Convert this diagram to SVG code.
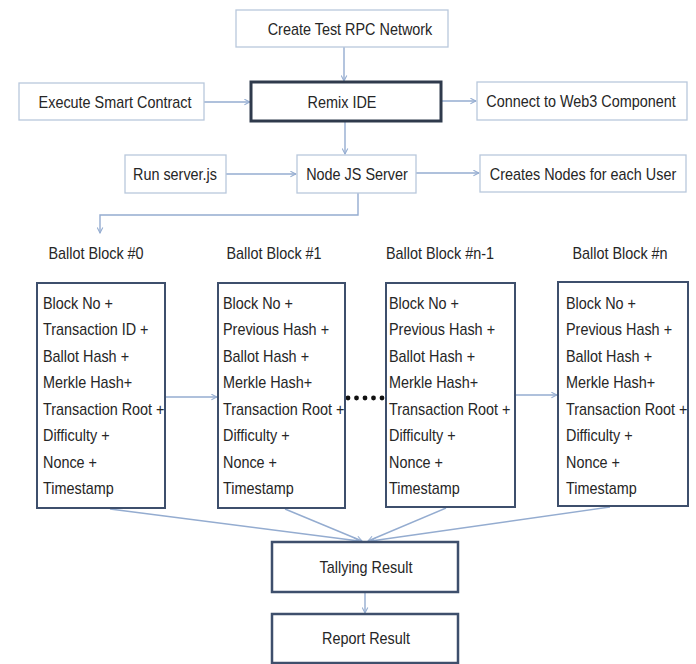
<svg xmlns="http://www.w3.org/2000/svg" width="696" height="664" viewBox="0 0 696 664">
  <style>
    .t { font-family: "Liberation Sans", Arial, sans-serif; font-size: 16px; fill: #262626; }
    .light { fill: #ffffff; stroke: #b9c8dc; stroke-width: 1.3; }
    .heavy { fill: #ffffff; stroke: #2f3a4c; stroke-width: 3; }
    .block { fill: #ffffff; stroke: #3e4f6c; stroke-width: 2; }
    .res { fill: #ffffff; stroke: #3e4f6c; stroke-width: 2.5; }
    .conn { fill: none; stroke: #94acd0; stroke-width: 1.4; }
  </style>
  <defs>
    <marker id="arr" viewBox="0 0 10 10" refX="9" refY="5" markerWidth="7" markerHeight="7" orient="auto" markerUnits="userSpaceOnUse">
      <path d="M1,1 L9,5 L1,9" fill="none" stroke="#94acd0" stroke-width="1.5"/>
    </marker>
  </defs>
  <rect width="696" height="664" fill="#ffffff"/>

  <!-- connectors -->
  <g id="connectors" class="conn">
    <path d="M344,47 V81" marker-end="url(#arr)"/>
    <path d="M204,102 H250" marker-end="url(#arr)"/>
    <path d="M441,101 H476" marker-end="url(#arr)"/>
    <path d="M345,121 V154" marker-end="url(#arr)"/>
    <path d="M226,174 H296" marker-end="url(#arr)"/>
    <path d="M416,173 H479" marker-end="url(#arr)"/>
    <path d="M358,193 V215 H100 V233" marker-end="url(#arr)"/>
    <path d="M165,397 H217" marker-end="url(#arr)"/>
    <path d="M515,395 H557" marker-end="url(#arr)"/>
    <path d="M110,509 L359,541" marker-end="url(#arr)"/>
    <path d="M285,509 L362,541" marker-end="url(#arr)"/>
    <path d="M446,508 L368,541" marker-end="url(#arr)"/>
    <path d="M610,507 L371,541" marker-end="url(#arr)"/>
    <path d="M365,593 V613" marker-end="url(#arr)"/>
  </g>
  <g id="ellipsis" fill="#111111">
    <circle cx="348" cy="398" r="2.4"/>
    <circle cx="356.5" cy="398" r="2.4"/>
    <circle cx="365" cy="398" r="2.4"/>
    <circle cx="373.5" cy="398" r="2.4"/>
    <circle cx="382" cy="398" r="2.4"/>
  </g>

  <!-- top section -->
  <g id="create-rpc">
    <rect class="light" x="236" y="10" width="212" height="37"/>
    <text class="t" text-anchor="middle" transform="translate(350,35) scale(0.9,1)">Create Test RPC Network</text>
  </g>
  <g id="execute-contract">
    <rect class="light" x="19" y="83" width="185" height="37"/>
    <text class="t" text-anchor="middle" transform="translate(115,108) scale(0.9,1)">Execute Smart Contract</text>
  </g>
  <g id="remix-ide">
    <rect class="heavy" x="251" y="82" width="190" height="39"/>
    <text class="t" text-anchor="middle" transform="translate(342,108) scale(0.9,1)">Remix IDE</text>
  </g>
  <g id="connect-web3">
    <rect class="light" x="477" y="82" width="210" height="38"/>
    <text class="t" text-anchor="middle" transform="translate(581,107) scale(0.9,1)">Connect to Web3 Component</text>
  </g>
  <g id="run-server">
    <rect class="light" x="125" y="155" width="101" height="38"/>
    <text class="t" text-anchor="middle" transform="translate(175,180) scale(0.9,1)">Run server.js</text>
  </g>
  <g id="node-server">
    <rect class="light" x="297" y="155" width="119" height="38"/>
    <text class="t" text-anchor="middle" transform="translate(357,180) scale(0.9,1)">Node JS Server</text>
  </g>
  <g id="create-nodes">
    <rect class="light" x="480" y="155" width="206" height="37"/>
    <text class="t" text-anchor="middle" transform="translate(583,180) scale(0.9,1)">Creates Nodes for each User</text>
  </g>

  <!-- ballot blocks -->
  <g id="block-0">
    <text class="t" text-anchor="middle" transform="translate(96,259) scale(0.9,1)">Ballot Block #0</text>
    <rect class="block" x="37" y="283" width="128" height="225"/>
    <text class="t" transform="translate(43,0) scale(0.9,1)">
      <tspan x="0" y="309">Block No +</tspan>
      <tspan x="0" y="335.5">Transaction ID +</tspan>
      <tspan x="0" y="362">Ballot Hash +</tspan>
      <tspan x="0" y="388.5">Merkle Hash+</tspan>
      <tspan x="0" y="415">Transaction Root +</tspan>
      <tspan x="0" y="441.5">Difficulty +</tspan>
      <tspan x="0" y="468">Nonce +</tspan>
      <tspan x="0" y="494.5">Timestamp</tspan>
    </text>
  </g>
  <g id="block-1">
    <text class="t" text-anchor="middle" transform="translate(274,259) scale(0.9,1)">Ballot Block #1</text>
    <rect class="block" x="218" y="283" width="127" height="225"/>
    <text class="t" transform="translate(223,0) scale(0.9,1)">
      <tspan x="0" y="309">Block No +</tspan>
      <tspan x="0" y="335.5">Previous Hash +</tspan>
      <tspan x="0" y="362">Ballot Hash +</tspan>
      <tspan x="0" y="388.5">Merkle Hash+</tspan>
      <tspan x="0" y="415">Transaction Root +</tspan>
      <tspan x="0" y="441.5">Difficulty +</tspan>
      <tspan x="0" y="468">Nonce +</tspan>
      <tspan x="0" y="494.5">Timestamp</tspan>
    </text>
  </g>
  <g id="block-n-1">
    <text class="t" text-anchor="middle" transform="translate(440,259) scale(0.9,1)">Ballot Block #n-1</text>
    <rect class="block" x="386" y="283" width="129" height="224"/>
    <text class="t" transform="translate(389,0) scale(0.9,1)">
      <tspan x="0" y="309">Block No +</tspan>
      <tspan x="0" y="335.5">Previous Hash +</tspan>
      <tspan x="0" y="362">Ballot Hash +</tspan>
      <tspan x="0" y="388.5">Merkle Hash+</tspan>
      <tspan x="0" y="415">Transaction Root +</tspan>
      <tspan x="0" y="441.5">Difficulty +</tspan>
      <tspan x="0" y="468">Nonce +</tspan>
      <tspan x="0" y="494.5">Timestamp</tspan>
    </text>
  </g>
  <g id="block-n">
    <text class="t" text-anchor="middle" transform="translate(620,259) scale(0.9,1)">Ballot Block #n</text>
    <rect class="block" x="558" y="282" width="130" height="224"/>
    <text class="t" transform="translate(566,0) scale(0.9,1)">
      <tspan x="0" y="309">Block No +</tspan>
      <tspan x="0" y="335.5">Previous Hash +</tspan>
      <tspan x="0" y="362">Ballot Hash +</tspan>
      <tspan x="0" y="388.5">Merkle Hash+</tspan>
      <tspan x="0" y="415">Transaction Root +</tspan>
      <tspan x="0" y="441.5">Difficulty +</tspan>
      <tspan x="0" y="468">Nonce +</tspan>
      <tspan x="0" y="494.5">Timestamp</tspan>
    </text>
  </g>

  <!-- results -->
  <g id="tallying">
    <rect class="res" x="272" y="542" width="186" height="50"/>
    <text class="t" text-anchor="middle" transform="translate(366,573) scale(0.9,1)">Tallying Result</text>
  </g>
  <g id="report">
    <rect class="res" x="272" y="614" width="186" height="49"/>
    <text class="t" text-anchor="middle" transform="translate(366,644) scale(0.9,1)">Report Result</text>
  </g>
</svg>
